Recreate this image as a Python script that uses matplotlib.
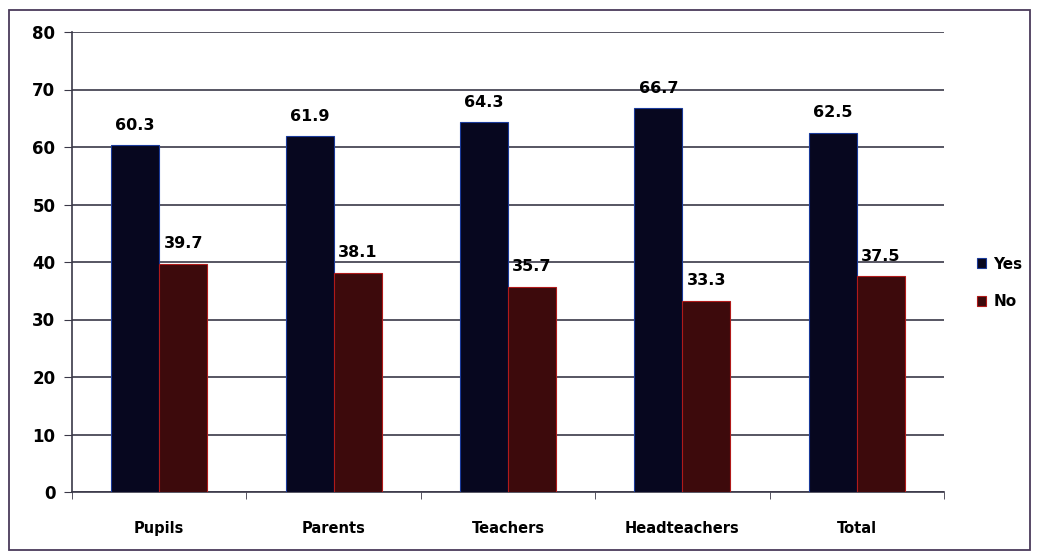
import matplotlib
matplotlib.use("Agg")
import matplotlib.pyplot as plt
from matplotlib.patches import Rectangle
import numpy as np

categories = ["Pupils", "Parents", "Teachers", "Headteachers", "Total"]
yes_values = [60.3, 61.9, 64.3, 66.7, 62.5]
no_values = [39.7, 38.1, 35.7, 33.3, 37.5]
series_names = ["Yes", "No"]

plt.rcParams['font.family'] = ['DejaVu Sans']
fig = plt.figure(figsize=(10.39, 5.58), dpi=100)
fig.patch.set_facecolor("white")
fig.patches.append(Rectangle((9/1039, 1 - 550/558), 1021/1039, 540/558,
                             transform=fig.transFigure, fill=False,
                             edgecolor="#4a3a5a", linewidth=1.3))

ax = fig.add_axes([72/1039, 1 - 492/558, (944 - 72)/1039, (492 - 32)/558])
x = np.arange(len(categories))
w = 0.275
b1 = ax.bar(x - w/2, yes_values, w, color="#07071f", edgecolor="#1a3a9a", linewidth=0.8,
            label=series_names[0], zorder=3)
b2 = ax.bar(x + w/2, no_values, w, color="#3d0a0c", edgecolor="#b01a1a", linewidth=0.8,
            label=series_names[1], zorder=3)

for bars in (b1, b2):
    for r in bars:
        ax.annotate(f"{r.get_height():.1f}", (r.get_x() + r.get_width()/2, r.get_height()),
                    xytext=(0, 9), textcoords="offset points", ha="center", va="bottom",
                    fontsize=11.5, fontweight="bold", color="black")

ax.set_xlim(-0.5, len(categories) - 0.5)
ax.set_ylim(0, 80)
ax.set_yticks(range(0, 81, 10))
ax.yaxis.grid(True, color="#3a3848", linewidth=1.2, zorder=0)
ax.set_axisbelow(True)
ax.set_xticks(x)
ax.set_xticklabels(categories, fontsize=10.5, fontweight="bold")
ax.tick_params(axis="x", length=0, pad=21)
ax.set_xticks(np.arange(-0.5, len(categories), 1), minor=True)
ax.tick_params(axis="x", which="minor", length=5, color="#3a3848", direction="out")
ax.tick_params(axis="y", length=6, color="#3a3848", labelsize=12, pad=6)
for lbl in ax.get_yticklabels():
    lbl.set_fontweight("bold")
for s in ["top", "right"]:
    ax.spines[s].set_visible(False)
ax.spines["left"].set_color("#3a3848")
ax.spines["bottom"].set_color("#3a3848")
ax.spines["left"].set_linewidth(1.2)
ax.spines["bottom"].set_linewidth(1.2)

leg = fig.legend(handles=[b1, b2], labels=series_names, loc="center left",
                 bbox_to_anchor=(963/1039, 1 - 283/558), frameon=False,
                 prop={"weight": "bold", "size": 11}, handlelength=0.6, handleheight=0.6,
                 labelspacing=1.5, handletextpad=0.5)

fig.savefig("out.png", dpi=100)
